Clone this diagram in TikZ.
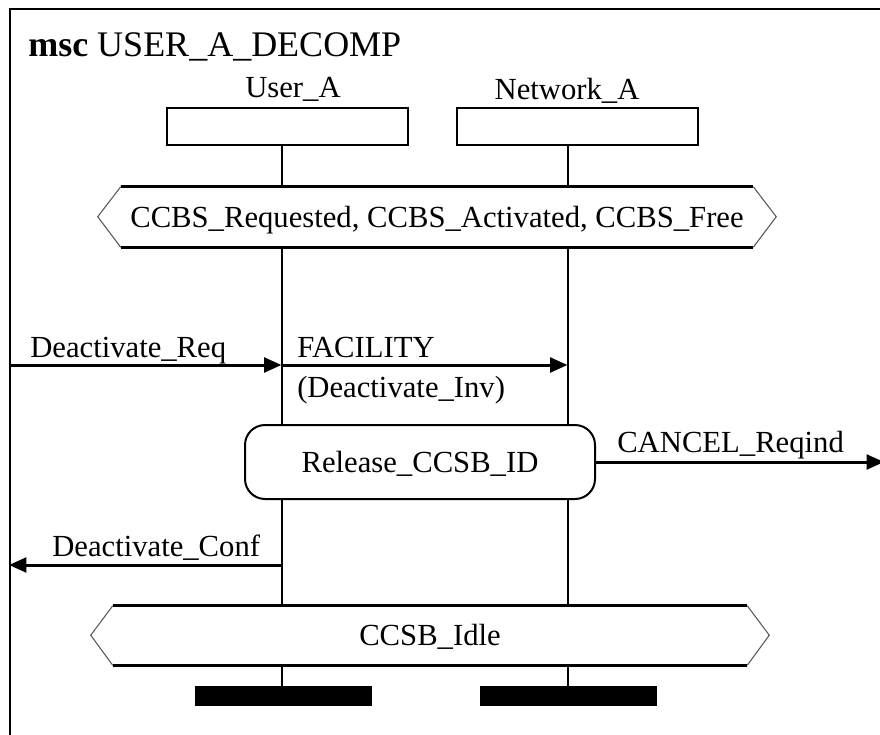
\documentclass[tikz,border=0pt]{standalone}
\usepackage{fontspec}
\setmainfont{Liberation Serif}
\usetikzlibrary{arrows.meta}

\begin{document}
\begin{tikzpicture}[x=0.75pt,y=-0.75pt]
\tikzstyle{every node}+=[inner sep=0pt, font=\fontsize{23}{27}\selectfont]
\tikzstyle{instbox}=[draw, line width=1.5pt, minimum width=180.75pt, minimum height=27.75pt]
\tikzstyle{condbox}=[minimum height=45pt, text height=15pt, text depth=0pt]
\tikzstyle{condedge}=[line width=2pt]
\tikzstyle{condside}=[line width=0.8pt, gray!70!black]
\tikzstyle{lifeline}=[line width=1.5pt]
\tikzstyle{msgarrow}=[line width=2.25pt, -{Triangle[length=13pt,width=11pt]}]
\tikzstyle{stopbar}=[fill=black, minimum width=132.75pt, minimum height=15pt]
\useasboundingbox (0,0) rectangle (880,734);
\clip (0,0) rectangle (880,734);
\fill[white] (0,0) rectangle (880,734);
\node[draw, line width=1.5pt, minimum width=654.75pt, minimum height=549pt, anchor=north west] (frame) at (9,8) {};
\node[anchor=base west, font=\fontsize{27}{32}\selectfont] (title) at (28,57) {\textbf{msc} USER\_A\_DECOMP};
\coordinate (ua) at (281.5,0);
\coordinate (na) at (567.5,0);
\node[anchor=base] (uaname) at (293,98) {User\_A};
\node[anchor=base] (naname) at (567,100) {Network\_A};
\node[instbox] (uahead) at (287.5,126.5) {};
\node[instbox] (nahead) at (577.5,126.5) {};
\node[condbox, minimum width=474pt] (cond1) at (437,217) {CCBS\_Requested, CCBS\_Activated, CCBS\_Free};
\draw[condedge] (cond1.north west) -- (cond1.north east);
\draw[condedge] (cond1.south west) -- (cond1.south east);
\draw[condside] (cond1.north west) -- ++(-23,30) -- (cond1.south west);
\draw[condside] (cond1.north east) -- ++(23,30) -- (cond1.south east);
\node[draw, line width=1.5pt, rounded corners=15pt, minimum width=262.5pt, minimum height=55.5pt, text height=15pt, text depth=0pt] (release) at (420,462) {Release\_CCSB\_ID};
\node[condbox, minimum width=475.5pt, minimum height=44.25pt] (cond2) at (430,635.5) {CCSB\_Idle};
\draw[condedge] (cond2.north west) -- (cond2.north east);
\draw[condedge] (cond2.south west) -- (cond2.south east);
\draw[condside] (cond2.north west) -- ++(-22,29.5) -- (cond2.south west);
\draw[condside] (cond2.north east) -- ++(22,29.5) -- (cond2.south east);
\node[stopbar] (uastop) at (283.5,696) {};
\node[stopbar] (nastop) at (568.5,696) {};
\foreach \i in {ua,na} {
  \draw[lifeline] (\i head.south -| \i) -- (cond1.north -| \i);
  \draw[lifeline] (cond1.south -| \i) -- (release.north -| \i);
  \draw[lifeline] (release.south -| \i) -- (cond2.north -| \i);
  \draw[lifeline] (cond2.south -| \i) -- (\i stop.north -| \i);
}
\coordinate (req) at (0,365);
\coordinate (conf) at (0,565);
\draw[msgarrow] (frame.west |- req) -- (ua |- req);
\node[anchor=base west] (reqlbl) at (30,357) {Deactivate\_Req};
\draw[msgarrow] (ua |- req) -- (na |- req);
\node[anchor=base west] (faclbl) at (297,357) {FACILITY};
\node[anchor=base west] (invlbl) at (297,397) {(Deactivate\_Inv)};
\draw[msgarrow] (release.east) -- (frame.east |- release.east);
\node[anchor=base west] (cancellbl) at (617,452) {CANCEL\_Reqind};
\draw[msgarrow] (ua |- conf) -- (frame.west |- conf);
\node[anchor=base west] (conflbl) at (52,556) {Deactivate\_Conf};
\end{tikzpicture}
\end{document}
